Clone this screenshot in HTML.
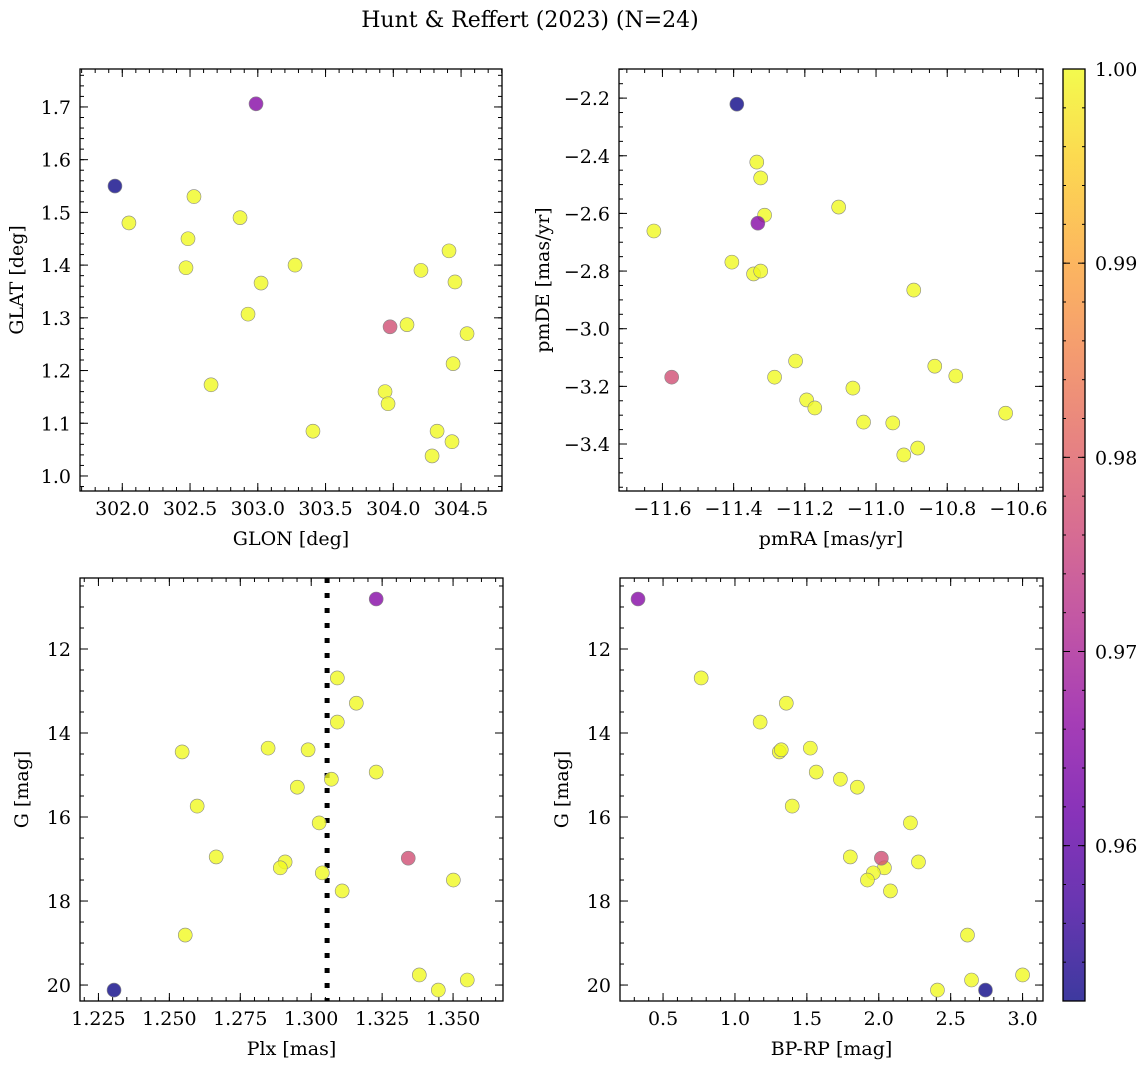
<!DOCTYPE html>
<html><head><meta charset="utf-8"><style>
html,body{margin:0;padding:0;background:#fff;}
svg{display:block;font-family:"DejaVu Serif","Liberation Serif",serif;}
</style></head><body>
<svg id="fig" width="1148" height="1068" viewBox="0 0 1148 1068">
<text x="530" y="27" font-size="22" text-anchor="middle">Hunt &amp; Reffert (2023) (N=24)</text>
</svg>
<script>
// membership probability (shared order across panels)
const prob=[0.952,0.965,0.977,1,1,1,1,1,1,1,1,1,1,1,1,1,1,1,1,1,1,1,1,1];
const glon=[301.946,302.987,303.976,302.049,302.529,302.485,302.470,302.869,302.928,303.024,302.655,303.275,303.407,303.939,303.961,304.101,304.204,304.411,304.455,304.441,304.544,304.323,304.286,304.433];
const glat=[1.550,1.706,1.283,1.48,1.53,1.45,1.395,1.49,1.307,1.366,1.173,1.40,1.085,1.16,1.137,1.287,1.39,1.427,1.368,1.213,1.27,1.085,1.038,1.065];
const pmra=[-11.391,-11.332,-11.574,-11.624,-11.335,-11.324,-11.313,-11.405,-11.344,-11.324,-11.105,-10.894,-11.285,-11.226,-11.195,-11.172,-11.065,-11.035,-10.953,-10.922,-10.883,-10.835,-10.776,-10.636];
const pmde=[-2.221,-2.634,-3.168,-2.661,-2.422,-2.477,-2.606,-2.769,-2.810,-2.800,-2.578,-2.866,-3.168,-3.112,-3.247,-3.275,-3.206,-3.324,-3.327,-3.438,-3.414,-3.130,-3.164,-3.293];
const plx=[1.2305,1.3229,1.3342,1.3092,1.3159,1.3092,1.2545,1.2848,1.2989,1.3229,1.3071,1.2951,1.2598,1.3028,1.2665,1.2908,1.2891,1.3039,1.3109,1.3501,1.2556,1.3381,1.3448,1.3550];
const gmagPlx=[20.12,10.81,16.98,12.69,13.29,13.74,14.45,14.36,14.40,14.93,15.10,15.29,15.74,16.14,16.95,17.07,17.21,17.33,17.76,17.5,18.81,19.76,20.12,19.88];
const bprp=[2.742,0.326,2.018,0.765,1.357,1.175,1.308,1.322,1.524,1.565,1.733,1.851,1.398,2.220,1.802,2.276,2.039,1.962,1.921,2.081,2.617,2.408,2.645,3.0];
const gmagCmd=[20.12,10.81,16.98,12.69,13.29,13.74,14.45,14.40,14.36,14.93,15.10,15.29,15.74,16.14,16.95,17.07,17.21,17.33,17.5,17.76,18.81,20.12,19.88,19.76];
const plxRef=1.3056;

const NS="http://www.w3.org/2000/svg";
const svg=document.getElementById('fig');
function mk(t,a,p){const e=document.createElementNS(NS,t);for(const k in a)e.setAttribute(k,a[k]);(p||svg).appendChild(e);return e;}
const stops=[[0,[13,8,135]],[0.1,[65,4,157]],[0.2,[106,0,168]],[0.3,[143,13,164]],[0.4,[177,42,144]],[0.5,[204,71,120]],[0.6,[225,100,98]],[0.7,[242,132,75]],[0.8,[252,166,54]],[0.9,[252,206,37]],[1,[240,249,33]]];
const vmin=0.952,vmax=1.0;
function cmap(v){let t=Math.max(0,Math.min(1,(v-vmin)/(vmax-vmin)));for(let i=1;i<stops.length;i++){if(t<=stops[i][0]){const a=stops[i-1],b=stops[i];const f=(t-a[0])/(b[0]-a[0]);const c=a[1].map((x,j)=>Math.round(x+(b[1][j]-x)*f));return `rgb(${c.join(',')})`;}}return 'rgb(240,249,33)';}
function fmt(v,d){const s=v.toFixed(d);return s.replace('-','\u2212');}

function panel(o){
  const g=mk('g',{});
  
  
  const X=v=>o.L+(v-o.x0)/(o.x1-o.x0)*(o.R-o.L);
  const Y=v=>o.B-(v-o.y0)/(o.y1-o.y0)*(o.B-o.T);
  const eps=1e-9;
  function ticks(a,b,step){const r=[];const s=Math.ceil(Math.min(a,b)/step-eps);for(let i=s;i*step<=Math.max(a,b)+eps;i++)r.push(i*step);return r;}
  ticks(o.x0,o.x1,o.xmin).forEach(v=>{const x=X(v);mk('line',{x1:x,x2:x,y1:o.B,y2:o.B-4,stroke:'#000'},g);mk('line',{x1:x,x2:x,y1:o.T,y2:o.T+4,stroke:'#000'},g);});
  ticks(o.y0,o.y1,o.ymin).forEach(v=>{const y=Y(v);mk('line',{x1:o.L,x2:o.L+4,y1:y,y2:y,stroke:'#000'},g);mk('line',{x1:o.R,x2:o.R-4,y1:y,y2:y,stroke:'#000'},g);});
  ticks(o.x0,o.x1,o.xmaj).forEach(v=>{const x=X(v);mk('line',{x1:x,x2:x,y1:o.B,y2:o.B-8,stroke:'#000'},g);mk('line',{x1:x,x2:x,y1:o.T,y2:o.T+8,stroke:'#000'},g);
    const t=mk('text',{x:x,y:o.B+24,'font-size':19,'text-anchor':'middle'},g);t.textContent=fmt(v,o.xd);});
  ticks(o.y0,o.y1,o.ymaj).forEach(v=>{const y=Y(v);mk('line',{x1:o.L,x2:o.L+8,y1:y,y2:y,stroke:'#000'},g);mk('line',{x1:o.R,x2:o.R-8,y1:y,y2:y,stroke:'#000'},g);
    const t=mk('text',{x:o.L-9,y:y+7,'font-size':19,'text-anchor':'end'},g);t.textContent=fmt(v,o.yd);});
  if(o.vline!==undefined){const l=mk('line',{x1:X(o.vline),x2:X(o.vline),y1:o.T,y2:o.B,stroke:'#000','stroke-width':5,'stroke-dasharray':'5,10'},g);}
  const idx=o.xs.map((_,i)=>i).sort((a,b)=>prob[b]-prob[a]);
  idx.forEach(i=>{const c=mk('circle',{cx:X(o.xs[i]),cy:Y(o.ys[i]),r:7,fill:cmap(prob[i]),'fill-opacity':0.8,stroke:'#888','stroke-width':0.6},g);
    });
  mk('rect',{x:o.L,y:o.T,width:o.R-o.L,height:o.B-o.T,fill:'none',stroke:'#000','stroke-width':1.3},g);
  const xl=mk('text',{x:(o.L+o.R)/2,y:o.B+54,'font-size':19,'text-anchor':'middle'},g);xl.textContent=o.xlab;
  
  const cy=(o.T+o.B)/2;const yx=o.L-o.yo;const yl=mk('text',{x:yx,y:cy,'font-size':19,'text-anchor':'middle',transform:`rotate(-90 ${yx} ${cy})`},g);yl.textContent=o.ylab;
  
}
panel({name:'glon-glat-panel',L:80,R:502,T:69,B:491,x0:301.688,x1:304.802,y0:0.9715,y1:1.772,xmaj:0.5,xmin:0.1,ymaj:0.1,ymin:0.02,xd:1,yd:1,xs:glon,ys:glat,xlab:'GLON [deg]',ylab:'GLAT [deg]',yo:57});
panel({name:'proper-motion-panel',L:619,R:1043,T:69,B:491,x0:-11.722,x1:-10.531,y0:-3.563,y1:-2.099,xmaj:0.2,xmin:0.05,ymaj:0.2,ymin:0.05,xd:1,yd:1,xs:pmra,ys:pmde,xlab:'pmRA [mas/yr]',ylab:'pmDE [mas/yr]',yo:70});
panel({name:'parallax-magnitude-panel',L:80,R:503,T:578,B:1001,x0:1.2185,x1:1.3676,y0:20.38,y1:10.31,xmaj:0.025,xmin:0.005,ymaj:2,ymin:0.5,xd:3,yd:0,xs:plx,ys:gmagPlx,xlab:'Plx [mas]',ylab:'G [mag]',vline:plxRef,yo:52});
panel({name:'color-magnitude-panel',L:620,R:1043,T:578,B:1001,x0:0.2006,x1:3.142,y0:20.38,y1:10.31,xmaj:0.5,xmin:0.1,ymaj:2,ymin:0.5,xd:1,yd:0,xs:bprp,ys:gmagCmd,xlab:'BP-RP [mag]',ylab:'G [mag]',yo:52});

const cbT=69,cbB=1001,cbL=1063,cbR=1085;
const cb=mk('g',{});


const defs=mk('defs',{},cb);const lg=mk('linearGradient',{id:'plasma',x1:0,y1:1,x2:0,y2:0},defs);
stops.forEach(s=>mk('stop',{offset:s[0],'stop-color':`rgb(${s[1].join(',')})`},lg));
mk('rect',{x:cbL,y:cbT,width:cbR-cbL,height:cbB-cbT,fill:'url(#plasma)','fill-opacity':0.8},cb);
const CY=v=>cbB-(v-vmin)/(vmax-vmin)*(cbB-cbT);
for(let i=Math.ceil(vmin/0.002);i*0.002<=vmax+1e-9;i++){const y=CY(i*0.002);mk('line',{x1:cbR,x2:cbR-3,y1:y,y2:y,stroke:'#000'},cb);mk('line',{x1:cbL,x2:cbL+3,y1:y,y2:y,stroke:'#000'},cb);}
[0.96,0.97,0.98,0.99,1.00].forEach(v=>{const y=CY(v);mk('line',{x1:cbR,x2:cbR-7,y1:y,y2:y,stroke:'#000'},cb);mk('line',{x1:cbL,x2:cbL+7,y1:y,y2:y,stroke:'#000'},cb);
  const t=mk('text',{x:cbR+10,y:y+7,'font-size':19},cb);t.textContent=v.toFixed(2);});
mk('rect',{x:cbL,y:cbT,width:cbR-cbL,height:cbB-cbT,fill:'none',stroke:'#000','stroke-width':1.3},cb);
</script>
</body></html>
